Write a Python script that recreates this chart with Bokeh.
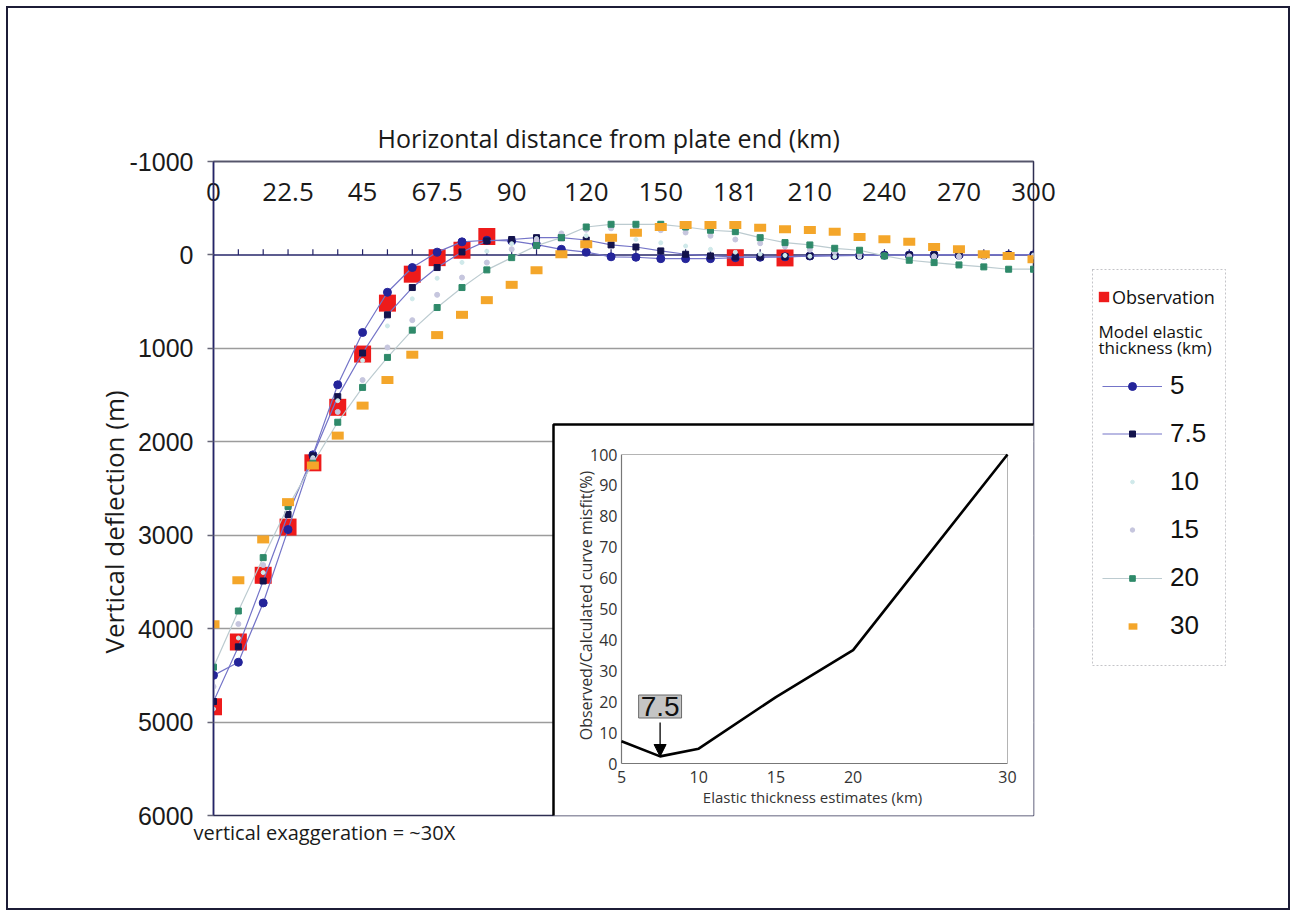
import math
from bokeh.plotting import figure
from bokeh.layouts import row
from bokeh.models import (Range1d, LinearAxis, FixedTicker, Label, Legend, LegendItem,
                          Span, Arrow, NormalHead, Grid, Title, BoxAnnotation)
from bokeh.core.properties import value
from bokeh.embed import file_html
from bokeh.resources import INLINE

# ---------------- data ----------------
distance_km = [0, 7.5, 15, 22.5, 30, 37.5, 45, 52.5, 60, 67.5, 75, 82.5, 90,
               100, 110, 120, 130, 140, 150, 160, 170, 180, 190, 200, 210, 220,
               230, 240, 250, 260, 270, 280, 290, 300]
x_tick_labels = ["0", "22.5", "45", "67.5", "90", "120", "150", "181", "210", "240", "270", "300"]
y_ticks = [-1000, 0, 1000, 2000, 3000, 4000, 5000, 6000]

N = None
observation = [4837, 4142, 3429, 2913, 2225, 1631, 1061, 516, 206, 29, -50, -196,
               N, N, N, N, N, N, N, N, N, 29, N, 32, N, N, N, N, N, N, N, N, N, N]
te_5 = [4500, 4360, 3725, 2940, 2140, 1390, 830, 400, 135, -30, -140, -157, -150, -110,
        -60, -30, 20, 25, 40, 40, 40, 30, 25, 20, 12, 8, 5, 3, 2, 0, 0, 0, 0, 0]
te_7_5 = [4780, 4195, 3490, 2778, 2150, 1517, 1050, 641, 349, 135, -32, -150, -165, -185,
          -185, -160, -107, -85, -43, -7, 11, 21, 20, 18, 12, 8, 5, 3, 2, 0, 0, 0, 0, 0]
te_10 = [4860, 4100, 3400, 2710, 2170, 1560, 1130, 760, 470, 250, 80, -40, -120, -175,
         -200, -205, -190, -165, -130, -95, -60, -30, -10, 5, 15, 20, 20, 18, 15, 10, 8, 5, 3, 0]
te_15 = [4620, 3950, 3320, 2700, 2190, 1680, 1339, 990, 698, 427, 242, 82, -61, -160,
         -230, -270, -285, -280, -265, -240, -205, -165, -125, -90, -55, -30, -10, 5, 15,
         20, 20, 20, 15, 15]
te_20 = [4412, 3811, 3240, 2692, 2230, 1791, 1418, 1097, 805, 563, 349, 160, 29, -100,
         -185, -299, -328, -328, -328, -299, -264, -249, -185, -132, -107, -71, -50, 11,
         57, 82, 107, 128, 153, 153]
te_30 = [3953, 3483, 3045, 2646, 2254, 1934, 1613, 1339, 1068, 858, 641, 484, 320, 164,
         -7, -114, -185, -238, -299, -320, -320, -320, -292, -274, -267, -249, -192, -168,
         -142, -85, -61, -7, 11, 46]

# inset: misfit vs elastic thickness
te_estimates = [5, 7.5, 10, 15, 20, 30]
misfit_pct = [7.2, 2.3, 4.8, 21.5, 36.7, 100]
inset_x_ticks = [5, 10, 15, 20, 30]
inset_y_ticks = [0, 10, 20, 30, 40, 50, 60, 70, 80, 90, 100]
best_te = 7.5

# ---------------- layout constants (page px) ----------------
PAGE_W, PAGE_H = 1296, 916
FL, FR, FT, FB = 213, 1033, 161, 815        # main frame
LL, LR, LT, LB = 1092, 1225, 269, 665       # legend box
GX0 = 1040                                  # left edge of the legend overlay

CG = "Open Sans"
AR = "Liberation Sans"

xpos = list(range(len(distance_km)))
nan = float("nan")


def clean(v):
    return [nan if a is None else a for a in v]


p = figure(width=PAGE_W, height=PAGE_H, output_backend="svg", toolbar_location=None,
           x_range=Range1d(0, len(distance_km) - 1), y_range=Range1d(6000, -1000),
           x_axis_location=None, y_axis_location=None,
           min_border_left=FL, min_border_right=PAGE_W - FR,
           min_border_top=FT, min_border_bottom=PAGE_H - FB)
p.grid.visible = False
p.background_fill_color = "white"
p.border_fill_color = None
p.outline_line_color = "#2e2e52"
p.outline_line_width = 1.5
p.styles = {"outline": "2px solid #1c1c36", "outline-offset": "-8px"}

# axes
yax = LinearAxis(ticker=FixedTicker(ticks=y_ticks),
                 major_label_overrides={t: str(t) for t in y_ticks},
                 major_tick_out=6, major_tick_in=0, minor_tick_out=0, minor_tick_in=0,
                 major_label_standoff=14,
                 major_label_text_font=AR, major_label_text_font_size="25px",
                 major_label_text_color="#1a1a1a",
                 axis_line_color="#24246a", axis_line_width=1.5,
                 major_tick_line_color="#666677", major_tick_line_width=1.5)
p.add_layout(yax, "left")

xtick_pos = xpos[::3]
xax = LinearAxis(ticker=FixedTicker(ticks=xtick_pos),
                 major_label_overrides=dict(zip(xtick_pos, x_tick_labels)),
                 major_tick_out=0, major_tick_in=0, minor_tick_out=0, minor_tick_in=0,
                 major_label_standoff=-39,
                 major_label_text_font=CG, major_label_text_font_size="26px",
                 major_label_text_color="#1a1a1a",
                 axis_line_color="#55556a", axis_line_width=1.5)
p.add_layout(xax, "above")

p.add_layout(Title(text="Horizontal distance from plate end (km)", align="left",
                   offset=377 - FL, standoff=13, text_font=CG, text_font_size="25px",
                   text_font_style="normal", text_color="#1a1a1a"), "above")
p.add_layout(Title(text="Vertical deflection (m)", align="left", offset=FB - 653,
                   standoff=-10, text_font=CG, text_font_size="26px",
                   text_font_style="normal", text_color="#1a1a1a"), "left")
p.add_layout(Title(text="vertical exaggeration = ~30X", align="left", offset=193 - FL,
                   standoff=3, text_font=CG, text_font_size="20px",
                   text_font_style="normal", text_color="#1a1a1a"), "below")

grid = Grid(dimension=1, ticker=FixedTicker(ticks=y_ticks[2:-1]),
            grid_line_color="#9c9c9c", grid_line_width=1.5)
p.add_layout(grid)

zero = Span(location=0, dimension="width", line_color="#26266a", line_width=1.5, level="underlay")
p.add_layout(zero)
p.segment(x0=xpos[1:], y0=[0] * (len(xpos) - 1), x1=xpos[1:], y1=[-60] * (len(xpos) - 1),
          line_color="#26266a", line_width=1.2, level="underlay")

# series styles
ST = {
    "obs": dict(fill_color="#ee1b1b", line_color=None),
    "l5": dict(line_color="#7474c8", line_width=1.2),
    "s5": dict(marker="circle", size=8, fill_color="#24249a", line_color="#24249a"),
    "l75": dict(line_color="#7474c8", line_width=1.2),
    "s75": dict(marker="square", size=6, fill_color="#13134c", line_color="#13134c"),
    "s10": dict(marker="circle", size=4, fill_color="#cfe9ea", line_color="#cfe9ea"),
    "s15": dict(marker="circle", size=5, fill_color="#c6c6de", line_color="#c6c6de"),
    "l20": dict(line_color="#bccbd0", line_width=1.2),
    "s20": dict(marker="square", size=6, fill_color="#2f8a6a", line_color="#2f8a6a"),
    "r30": dict(fill_color="#f4a62a", line_color=None),
}
SQ = dict(width_units="screen", height_units="screen")

p.rect(x=xpos, y=clean(observation), width=17, height=17, **SQ, **ST["obs"])
p.line(xpos, te_5, **ST["l5"])
p.scatter(xpos, te_5, **ST["s5"])
p.line(xpos, te_7_5, **ST["l75"])
p.scatter(xpos, te_7_5, **ST["s75"])
p.scatter(xpos, te_10, **ST["s10"])
p.scatter(xpos, te_15, **ST["s15"])
p.line(xpos, te_20, **ST["l20"])
p.scatter(xpos, te_20, **ST["s20"])
p.rect(x=xpos, y=te_30, width=12, height=8, **SQ, **ST["r30"])

# ---------------- inset ----------------
IX0, IX1 = 621, 1007   # page px of te 5 and 30
IY0, IY1 = 763, 454    # page px of misfit 0 and 100
xa, xb = inset_x_ticks[0], inset_x_ticks[-1]
ya, yb = inset_y_ticks[0], inset_y_ticks[-1]
kx = (IX1 - IX0) / (xb - xa)
ky = (IY0 - IY1) / (yb - ya)
p.extra_x_ranges = {"inx": Range1d(xa - (IX0 - FL) / kx, xa + (FR - IX0) / kx)}
p.extra_y_ranges = {"iny": Range1d(ya - (FB - IY0) / ky, ya + (IY0 - FT) / ky)}


def ixp(px):
    return xa + (px - IX0) / kx


def iyp(py):
    return ya + (IY0 - py) / ky


R = dict(x_range_name="inx", y_range_name="iny")
p.quad(left=[ixp(553)], right=[ixp(1036)], bottom=[iyp(818)], top=[iyp(424)],
       fill_color="white", line_color="black", line_width=2.5, **R)
p.segment(x0=[xa, xa], y0=[ya, ya], x1=[xa, xb], y1=[yb, ya], line_color="#777777",
          line_width=1.2, **R)
p.segment(x0=[xa, xb], y0=[yb, ya], x1=[xb, xb], y1=[yb, yb], line_color="#b4b4b4",
          line_width=1, **R)
p.line(te_estimates, misfit_pct, line_color="black", line_width=2.6, **R)
p.text(x=[ixp(617)] * len(inset_y_ticks), y=inset_y_ticks, text=[str(t) for t in inset_y_ticks],
       text_align="right", text_baseline="middle", text_font=value(CG),
       text_font_size="16px", text_color="#333333", **R)
p.text(x=inset_x_ticks, y=[iyp(776)] * len(inset_x_ticks), text=[str(t) for t in inset_x_ticks],
       text_align="center", text_baseline="middle", text_font=value(CG),
       text_font_size="16px", text_color="#333333", **R)
p.text(x=[ixp(812)], y=[iyp(796)], text=["Elastic thickness estimates (km)"],
       text_align="center", text_baseline="middle", text_font=value(CG),
       text_font_size="15px", text_color="#333333", **R)
p.text(x=[ixp(585)], y=[iyp(605)], text=["Observed/Calculated curve misfit(%)"], angle=math.pi / 2,
       text_align="center", text_baseline="middle", text_font=value(CG),
       text_font_size="16px", text_color="#333333", **R)

p.add_layout(Arrow(x_start=best_te, y_start=iyp(722), x_end=best_te, y_end=iyp(756),
                   end=NormalHead(size=12, fill_color="black", line_color="black"),
                   line_color="black", line_width=1.3, **R))
p.add_layout(Label(x=best_te, y=iyp(706), text=str(best_te), text_align="center",
                   text_baseline="middle", text_font=AR, text_font_size="28px",
                   text_color="#111111", background_fill_color="#c4c4c4",
                   border_line_color="#6a6a6a", border_line_width=1, padding=2, **R))

# ---------------- legend (transparent overlay on the right) ----------------
WLg = PAGE_W - GX0
lg = figure(width=WLg, height=PAGE_H, output_backend="svg", toolbar_location=None,
            x_range=Range1d(GX0, PAGE_W), y_range=Range1d(FB, FT),
            x_axis_location=None, y_axis_location=None,
            min_border_left=0, min_border_right=0,
            min_border_top=FT, min_border_bottom=PAGE_H - FB)
lg.margin = (0, 0, 0, -WLg)
lg.grid.visible = False
lg.background_fill_alpha = 0
lg.border_fill_alpha = 0
lg.outline_line_color = None

lg.add_layout(BoxAnnotation(left=LL, right=LR, top=LT, bottom=LB, fill_alpha=0,
                            line_color="#3a3a4a", line_width=1, line_dash="2 2"))


def lx(X):
    return X - GX0


def ly(Y):
    return FB - Y


D = dict(x=[nan], y=[nan])
r_obs = lg.rect(width=1, height=1, **D, **ST["obs"])
l5 = lg.line(**D, **ST["l5"])
s5 = lg.scatter(**D, **ST["s5"])
l75 = lg.line(**D, **ST["l75"])
s75 = lg.scatter(**D, **ST["s75"])
s10 = lg.scatter(**D, **ST["s10"])
s15 = lg.scatter(**D, **ST["s15"])
l20 = lg.line(**D, **ST["l20"])
s20 = lg.scatter(**D, **ST["s20"])
r30 = lg.rect(width=1, height=1, **D, **ST["r30"])


def mk_legend(label, renderers, left, cy, gw, gh, standoff, font, size, lh):
    leg = Legend(items=[LegendItem(label=value(label), renderers=renderers)],
                 location=(lx(left), ly(cy + lh / 2)), glyph_width=gw, glyph_height=gh,
                 label_standoff=standoff, padding=0, margin=0, spacing=0,
                 border_line_alpha=0, background_fill_alpha=0,
                 label_text_font=font, label_text_font_size=size,
                 label_text_color="#111111")
    lg.add_layout(leg)
    return leg


mk_legend("Observation", [r_obs], 1097, 296, 13, 13, 2, CG, "18px", 25)
lg.add_layout(Label(x=1098, y=331, text="Model elastic", text_font=CG, text_font_size="17px",
                    text_baseline="middle", text_color="#111111"))
lg.add_layout(Label(x=1098, y=347, text="thickness (km)", text_font=CG, text_font_size="17px",
                    text_baseline="middle", text_color="#111111"))
rows = [("5", [l5, s5], 20), ("7.5", [l75, s75], 15), ("10", [s10], 9),
        ("15", [s15], 11), ("20", [l20, s20], 14)]
row_y = [386, 434, 482, 530, 578, 626]
for (lab, rs, gh), cy in zip(rows, row_y):
    mk_legend(lab, rs, 1102, cy, 60, gh, 8, AR, "26px", 30)
mk_legend("30", [r30], 1127, row_y[5], 11, 8, 32, AR, "26px", 30)

layout = row(p, lg, spacing=0)

open("out.html", "w").write(file_html(layout, INLINE))
